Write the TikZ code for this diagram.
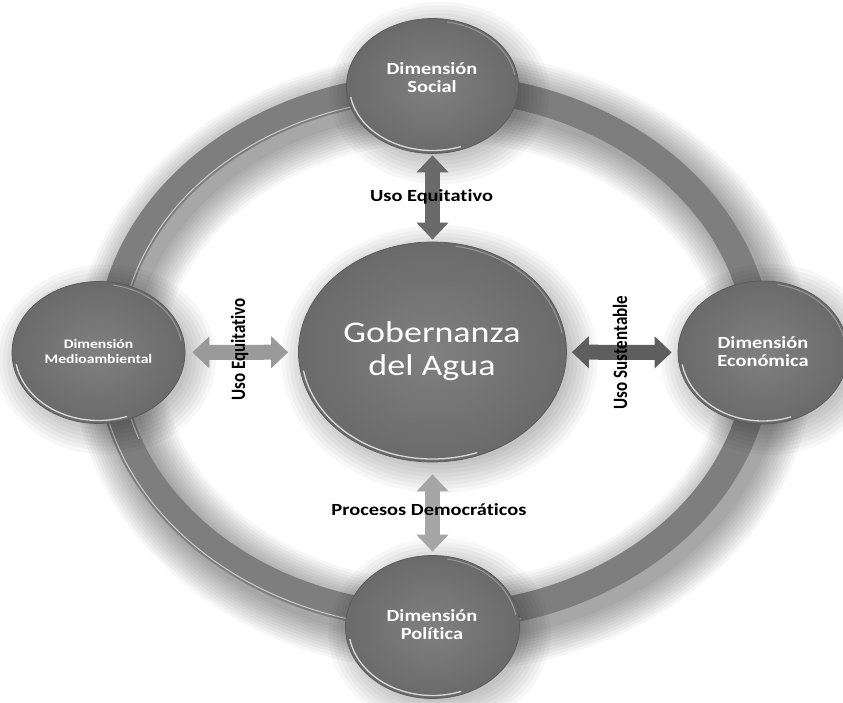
\documentclass[tikz,border=0pt]{standalone}
\usepackage{fontspec}
\setmainfont{Carlito}[RawFeature={-liga;-calt;-clig;-dlig;-rlig}]
\usetikzlibrary{arrows.meta,shapes.geometric,calc}

\definecolor{cgray}{HTML}{787878}
\definecolor{cgrayin}{HTML}{808080}
\definecolor{cgrayout}{HTML}{6A6A6A}
\definecolor{ringgray}{HTML}{7E7E7E}
\definecolor{arrdark}{HTML}{6A6A6A}
\definecolor{arrdarker}{HTML}{5E5E5E}
\definecolor{arrlight}{HTML}{9A9A9A}
\definecolor{arrlighter}{HTML}{A6A6A6}
\definecolor{rimdark}{HTML}{5A5A5A}

\newcommand\softshadow[4]{%
  \foreach \e in {-4,0,...,24} {%
    \fill[black, opacity=0.03] ({#1+7},{#2-7}) ellipse [x radius={#3+\e}, y radius={#4+\e}];}}
\newcommand\rimlight[4]{%
  \draw[white, opacity=0.75, line width=1.3pt] (#1,#2) ++(190:{#3-3} and {#4-3})
     arc[start angle=190, end angle=290, x radius={#3-3}, y radius={#4-3}];
  \draw[white, opacity=0.3, line width=1pt] (#1,#2) ++(10:{#3-2.5} and {#4-2.5})
     arc[start angle=10, end angle=80, x radius={#3-2.5}, y radius={#4-2.5}];}

\tikzset{
  dimc/.style={ellipse, inner sep=0pt, draw=rimdark, line width=0.7pt,
    shading=radial, inner color=cgrayin, outer color=cgrayout},
  dimtxt/.style={text=white, font=\bfseries\fontsize{17}{18}\selectfont, align=center, xscale=1.2, inner sep=0pt},
  smalltxt/.style={dimtxt, font=\bfseries\fontsize{13}{14.5}\selectfont},
  gobtxt/.style={text=white, font=\fontsize{30}{33}\selectfont, align=center, xscale=1.2, inner sep=0pt},
  lbl/.style={text=black, font=\bfseries\fontsize{17}{20}\selectfont, xscale=1.2, anchor=base, inner sep=0pt},
  vlbl/.style={text=black, font=\bfseries\fontsize{17}{20}\selectfont, rotate=90, yscale=1.2, anchor=base, inner sep=0pt},
  barr/.style={line width=15pt, {Triangle[width=31pt,length=17pt]}-{Triangle[width=31pt,length=17pt]}},
}

\begin{document}
\begin{tikzpicture}[x=1pt, y=1pt]
\useasboundingbox (0,0) rectangle (843,702);
\fill[white] (0,0) rectangle (843,702);

% ring shadow
\foreach \w in {30,36,...,90} {
  \draw[black, opacity=0.035, line width=\w pt] (443,340) ellipse [x radius=325, y radius=265];
}
% ring
\draw[ringgray, line width=27pt] (434,350) ellipse [x radius=325, y radius=265];
\draw[white, opacity=0.6, line width=1pt] (434,350) ++(95:314 and 254)
   arc[start angle=95, end angle=200, x radius=314, y radius=254];
\draw[white, opacity=0.6, line width=1pt] (434,350) ++(195:336 and 276)
   arc[start angle=195, end angle=285, x radius=336, y radius=276];

% circle shadows
\softshadow{432.5}{350}{134}{110}
\softshadow{432.5}{616}{86}{67.5}
\softshadow{98.5}{349.5}{86.5}{71}
\softshadow{763}{349.5}{85}{71.5}
\softshadow{432.5}{75}{87}{71.5}

% circles
\node[dimc, minimum width=268pt, minimum height=220pt] (gob) at (432.5,350) {};
\node[dimc, minimum width=172pt, minimum height=135pt] (soc) at (432.5,616) {};
\node[dimc, minimum width=173pt, minimum height=142pt] (med) at (98.5,349.5) {};
\node[dimc, minimum width=170pt, minimum height=143pt] (eco) at (763,349.5) {};
\node[dimc, minimum width=174pt, minimum height=143pt] (pol) at (432.5,75) {};

\rimlight{432.5}{350}{134}{110}
\rimlight{432.5}{616}{86}{67.5}
\rimlight{98.5}{349.5}{86.5}{71}
\rimlight{763}{349.5}{85}{71.5}
\rimlight{432.5}{75}{87}{71.5}

% circle texts
\node[gobtxt] (gobT) at (432,351) {Gobernanza\\del Agua};
\node[dimtxt] (socT) at (432,624) {Dimensión\\Social};
\node[smalltxt] (medT) at (98.5,350.5) {Dimensión\\Medioambiental};
\node[dimtxt] (ecoT) at (763,350.5) {Dimensión\\Económica};
\node[dimtxt] (polT) at (432,77) {Dimensión\\Política};

% arrows
\draw[barr, arrdark, shorten <=1.5pt, shorten >=2pt] (soc) -- (gob);
\draw[barr, arrlighter, shorten <=12pt, shorten >=3.5pt] (gob) -- (pol);
\draw[barr, arrlight, shorten <=7pt, shorten >=10pt] (med) -- (gob);
\draw[barr, arrdarker, shorten <=5pt, shorten >=6pt] (gob) -- (eco);

% labels
\node[lbl] (l1) at (431.5,500) {Uso Equitativo};
\node[lbl] (l2) at (429,187) {Procesos Democráticos};
\node[vlbl] (l3) at (245,352.5) {Uso Equitativo};
\node[vlbl] (l4) at (627,349.5) {Uso Sustentable};
\end{tikzpicture}
\end{document}
